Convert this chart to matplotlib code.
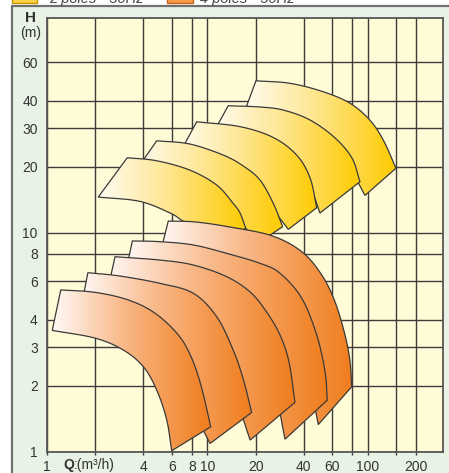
import numpy as np
import matplotlib
matplotlib.use("Agg")
import matplotlib.pyplot as plt
from matplotlib.patches import Polygon, Rectangle
from matplotlib.colors import LinearSegmentedColormap

plt.rcParams['font.family'] = ['Liberation Sans', 'DejaVu Sans']

# ---------------- data ----------------
x_ticks = [1, 2, 4, 6, 8, 10, 20, 40, 60, 80, 100, 150, 200]
x_labels = ['1', '', '4', '6', '8', '10', '20', '40', '60', '', '100', '', '200']
y_ticks = [1, 2, 3, 4, 6, 8, 10, 20, 30, 40, 60]
y_labels = ['1', '2', '3', '4', '6', '8', '10', '20', '30', '40', '60']
x_range = (1, 296)
y_range = (1, 95.3)

legend_labels = ['2 poles - 50Hz', '4 poles - 50Hz']

# 2 poles (yellow) areas, (Q m3/h, H m), lowest = a
pole2_a_top = [(3.17, 22.0), (4.84, 21.3), (7.80, 19.3), (11.45, 16.5), (14.5, 13.6), (16.0, 12.3), (17.35, 10.5)]
pole2_a_bot = [(2.09, 14.55), (3.80, 13.9), (5.86, 12.3), (6.92, 11.4), (9.0, 10.1), (12.35, 8.6)]
pole2_b_top = [(4.84, 26.3), (7.80, 25.4), (12.6, 22.6), (16.7, 20.2), (21.3, 17.4), (25.8, 13.6), (29.5, 10.65)]
pole2_b_bot = [(3.54, 18.9), (5.45, 17.8), (8.38, 16.0), (12.0, 13.7), (16.0, 11.2), (20.7, 8.97)]
pole2_c_top = [(8.59, 32.1), (16.0, 30.5), (25.8, 27.2), (36.1, 22.6), (43.7, 17.8), (48.1, 13.0)]
pole2_c_bot = [(6.38, 21.5), (10.4, 20.2), (16.0, 17.0), (21.9, 14.1), (26.8, 12.2), (32.0, 10.36)]
pole2_d_top = [(13.5, 38.0), (21.3, 37.5), (29.8, 36.3), (43.7, 32.7), (62.5, 27.1), (79.8, 21.9), (89.5, 17.1)]
pole2_d_bot = [(10.7, 27.9), (17.2, 26.0), (26.4, 22.6), (36.8, 18.9), (45.0, 15.3), (50.4, 12.3)]
pole2_e_top = [(20.1, 49.4), (32.8, 48.1), (52.9, 44.0), (77.6, 39.0), (103, 32.7), (125, 26.5), (150, 19.7)]
pole2_e_bot = [(16.5, 33.4), (26.4, 32.0), (43.7, 27.9), (62.5, 23.4), (79.8, 18.9), (96.2, 14.8)]

# 4 poles (orange) areas
pole4_a_top = [(1.22, 5.48), (2.0, 5.34), (3.22, 4.93), (4.72, 4.29), (6.6, 3.41), (8.0, 2.67), (9.23, 1.95), (10.5, 1.30)]
pole4_a_bot = [(1.08, 3.58), (2.0, 3.30), (3.0, 2.91), (4.0, 2.44), (4.84, 1.91), (5.58, 1.40), (6.0, 1.01)]
pole4_b_top = [(1.80, 6.57), (2.86, 6.34), (5.07, 5.87), (8.18, 5.29), (11.45, 4.13), (14.5, 2.91), (16.8, 2.13), (18.9, 1.51)]
pole4_b_bot = [(1.61, 4.30), (2.86, 3.99), (4.39, 3.41), (5.86, 2.71), (7.26, 2.02), (8.50, 1.47), (10.4, 1.09)]
pole4_c_top = [(2.66, 7.77), (5.07, 7.50), (8.18, 7.12), (13.2, 6.30), (18.5, 5.36), (23.2, 4.39), (28.4, 3.41), (32.3, 2.57), (35.2, 1.68)]
pole4_c_bot = [(2.34, 5.09), (4.39, 4.78), (7.26, 3.99), (10.4, 3.07), (13.5, 2.17), (16.0, 1.55), (18.5, 1.13)]
pole4_d_top = [(3.41, 9.17), (5.07, 9.10), (8.18, 8.79), (13.2, 8.05), (21.3, 7.25), (28.4, 6.53), (38.8, 5.02), (48.1, 3.41), (54.2, 2.32), (56.0, 1.72)]
pole4_d_bot = [(3.03, 6.08), (5.86, 5.89), (10.4, 5.03), (16.0, 3.99), (21.9, 2.85), (26.8, 1.82), (30.5, 1.14)]
pole4_e_top = [(5.71, 11.3), (8.38, 11.2), (13.5, 10.65), (25.2, 9.69), (38.8, 8.19), (51.7, 6.41), (62.5, 4.84), (72.2, 3.41), (77.6, 2.58), (79.5, 1.98)]
pole4_e_bot = [(4.93, 7.35), (9.0, 7.35), (16.0, 6.41), (24.6, 5.19), (34.2, 3.67), (42.5, 2.24), (49.2, 1.33)]

# ---------------- style ----------------
W, H = 449, 473
FIG_GREEN = '#e8f3e5'
AX_YELLOW = '#fffbd7'
GRID = '#3c3c3c'
EDGE = '#3a3a3a'
YELLOW_STOPS = [(0.0, '#fffdf4'), (0.45, '#fee795'), (1.0, '#ffcb00')]
ORANGE_STOPS = [(0.0, '#fffaf8'), (0.45, '#f9b888'), (1.0, '#f07d1c')]


def px(x, y):
    return x / W, 1 - y / H


def smooth(pts, n=14):
    P = np.log10(np.asarray(pts, float))
    ext = np.vstack([2 * P[0] - P[1], P, 2 * P[-1] - P[-2]])
    out = []
    t = np.linspace(0, 1, n, endpoint=False)[:, None]
    for i in range(1, len(ext) - 2):
        p0, p1, p2, p3 = ext[i - 1], ext[i], ext[i + 1], ext[i + 2]
        seg = 0.5 * (2 * p1 + (-p0 + p2) * t + (2 * p0 - 5 * p1 + 4 * p2 - p3) * t ** 2
                     + (-p0 + 3 * p1 - 3 * p2 + p3) * t ** 3)
        out.append(seg)
    out.append(P[-1][None, :])
    return 10 ** np.vstack(out)


fig = plt.figure(figsize=(W / 100, H / 100), dpi=100, facecolor='white')

# outer green panel
fig.add_artist(Rectangle((12 / W, -0.05), 1.1, 1 - 6 / H + 0.05, transform=fig.transFigure,
                         facecolor=FIG_GREEN, edgecolor='#707070', lw=1.6, zorder=0))

x0, y0 = px(46.9, 451.7)
x1, y1 = px(443.3, 18.3)
ax = fig.add_axes([x0, y0, x1 - x0, y1 - y0])
ax.set_facecolor(AX_YELLOW)
ax.set_xscale('log')
ax.set_yscale('log')
ax.set_xlim(*x_range)
ax.set_ylim(*y_range)
ax.set_autoscale_on(False)

ax.set_xticks(x_ticks)
ax.set_xticklabels(x_labels)
ax.set_yticks(y_ticks)
ax.set_yticklabels(y_labels)
ax.xaxis.set_minor_locator(matplotlib.ticker.NullLocator())
ax.yaxis.set_minor_locator(matplotlib.ticker.NullLocator())
ax.grid(True, color=GRID, lw=1.0)
ax.set_axisbelow(True)
ax.tick_params(axis='x', length=2.5, width=1.0, color=GRID, labelsize=10, labelcolor='#333333', pad=3.5)
ax.tick_params(axis='y', length=0, labelsize=10, labelcolor='#333333', pad=6.5)
for s in ax.spines.values():
    s.set_color('#555555')
    s.set_linewidth(1.3)
    s.set_zorder(60)


def draw_shape(top, bot, stops, z):
    t = smooth(top)
    b = smooth(bot)
    verts = np.vstack([t, b[::-1]])
    poly = Polygon(verts, closed=True, transform=ax.transData, facecolor='none',
                   edgecolor=EDGE, lw=0.9, zorder=z + 0.5)
    ax.add_patch(poly)
    disp = ax.transData.transform(verts)
    axc = ax.transAxes.inverted().transform(disp)
    ex = [axc[:, 0].min(), axc[:, 0].max(), axc[:, 1].min(), axc[:, 1].max()]
    cmap = LinearSegmentedColormap.from_list('g', stops)
    grad = np.linspace(0, 1, 256)[None, :]
    im = ax.imshow(grad, cmap=cmap, extent=ex, transform=ax.transAxes, aspect='auto',
                   interpolation='bilinear', zorder=z)
    im.set_clip_path(poly)


shapes = [
    (pole2_e_top, pole2_e_bot, YELLOW_STOPS),
    (pole2_d_top, pole2_d_bot, YELLOW_STOPS),
    (pole2_c_top, pole2_c_bot, YELLOW_STOPS),
    (pole2_b_top, pole2_b_bot, YELLOW_STOPS),
    (pole2_a_top, pole2_a_bot, YELLOW_STOPS),
    (pole4_e_top, pole4_e_bot, ORANGE_STOPS),
    (pole4_d_top, pole4_d_bot, ORANGE_STOPS),
    (pole4_c_top, pole4_c_bot, ORANGE_STOPS),
    (pole4_b_top, pole4_b_bot, ORANGE_STOPS),
    (pole4_a_top, pole4_a_bot, ORANGE_STOPS),
]
for i, (tp, bt, c) in enumerate(shapes):
    draw_shape(tp, bt, c, 2 + 2 * i)

ax.set_xlim(*x_range)
ax.set_ylim(*y_range)

# axis titles
fig.text(*px(31, 18), 'H', ha='center', va='center', fontsize=11, fontweight='bold', color='#333333')
fig.text(*px(31, 33), '(m)', ha='center', va='center', fontsize=10, color='#333333')
fig.text(*px(63, 469), 'Q', ha='left', va='baseline', fontsize=10, fontweight='bold', color='#333333')
fig.text(*px(74, 469), ':(m³/h)', ha='left', va='baseline', fontsize=10, color='#333333')

# legend (cut at the top edge)
fig.add_artist(Rectangle(px(12, 3), 25 / W, 12 / H, transform=fig.transFigure,
                         facecolor='#fdd34a', edgecolor='#c99400', lw=1.0, zorder=5))
fig.add_artist(Rectangle(px(167, 3), 26 / W, 12 / H, transform=fig.transFigure,
                         facecolor='#f59a45', edgecolor='#c8641a', lw=1.0, zorder=5))
fig.text(*px(49, 2.5), legend_labels[0], ha='left', va='baseline', fontsize=10.5,
         style='italic', color='#444444')
fig.text(*px(200, 2.5), legend_labels[1], ha='left', va='baseline', fontsize=10.5,
         style='italic', color='#444444')

fig.savefig('out.png', dpi=100, facecolor='white')
